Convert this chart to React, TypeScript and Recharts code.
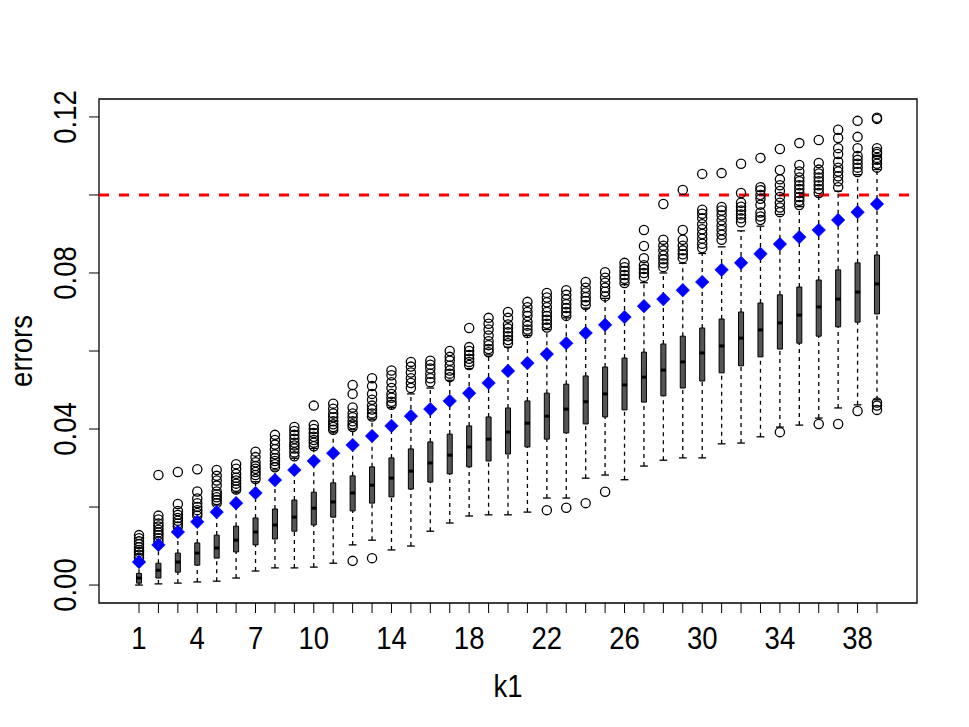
import React from 'react';
import {
  ComposedChart,
  XAxis,
  YAxis,
  Scatter,
  ReferenceLine,
  ReferenceArea,
} from 'recharts';

// ---- data ----
const k1 = [1, 2, 3, 4, 5, 6, 7, 8, 9, 10, 11, 12, 13, 14, 15, 16, 17, 18, 19, 20, 21, 22, 23, 24, 25, 26, 27, 28, 29, 30, 31, 32, 33, 34, 35, 36, 37, 38, 39];
const xLabels = [1, 4, 7, 10, 14, 18, 22, 26, 30, 34, 38];
const yTicks = [0, 0.02, 0.04, 0.06, 0.08, 0.1, 0.12];
const yLabels = [0, 0.04, 0.08, 0.12];
const threshold = 0.1;

const lows = [0.0, 0.0003, 0.0005, 0.0008, 0.001, 0.0018, 0.0036, 0.0044, 0.0044, 0.0046, 0.0056, 0.0103, 0.0115, 0.009, 0.01, 0.0138, 0.0159, 0.0177, 0.018, 0.018, 0.0187, 0.0223, 0.0223, 0.0274, 0.0282, 0.027, 0.0305, 0.032, 0.0326, 0.0326, 0.0362, 0.0364, 0.038, 0.0405, 0.041, 0.0428, 0.0454, 0.0462, 0.0475];
const q1s = [0.0005, 0.0018, 0.0033, 0.0051, 0.0069, 0.0085, 0.0103, 0.0118, 0.0138, 0.0154, 0.0174, 0.019, 0.021, 0.0226, 0.0246, 0.0264, 0.0285, 0.0303, 0.0318, 0.0336, 0.0354, 0.0374, 0.039, 0.0413, 0.0431, 0.0449, 0.0469, 0.0485, 0.0505, 0.0523, 0.0544, 0.0562, 0.0585, 0.0605, 0.062, 0.0638, 0.0662, 0.0674, 0.0695];
const medians = [0.0018, 0.0038, 0.0059, 0.0082, 0.0095, 0.0115, 0.0136, 0.0154, 0.0174, 0.0197, 0.0213, 0.0236, 0.0256, 0.0274, 0.0292, 0.0313, 0.0333, 0.0354, 0.0374, 0.0392, 0.0415, 0.0433, 0.0451, 0.047, 0.049, 0.0513, 0.0533, 0.0551, 0.0572, 0.0595, 0.0613, 0.0633, 0.0654, 0.0672, 0.0692, 0.0713, 0.0733, 0.0751, 0.0772];
const q3s = [0.003, 0.0056, 0.0082, 0.0108, 0.0128, 0.0151, 0.0172, 0.0195, 0.0218, 0.0238, 0.0262, 0.028, 0.0303, 0.0326, 0.0349, 0.0367, 0.0387, 0.0408, 0.0431, 0.0454, 0.0472, 0.0492, 0.0515, 0.0536, 0.0559, 0.0582, 0.0597, 0.0618, 0.0638, 0.0659, 0.0682, 0.07, 0.0723, 0.0744, 0.0764, 0.0782, 0.0808, 0.0826, 0.0846];
const highs = [0.0065, 0.0108, 0.0145, 0.0172, 0.0205, 0.0238, 0.0265, 0.0295, 0.0325, 0.035, 0.0392, 0.0398, 0.0425, 0.0455, 0.049, 0.0505, 0.0525, 0.0555, 0.059, 0.061, 0.064, 0.0655, 0.0685, 0.071, 0.0735, 0.077, 0.0775, 0.08, 0.0825, 0.085, 0.0867, 0.0908, 0.092, 0.095, 0.097, 0.0998, 0.101, 0.1052, 0.1065];
const means = [0.0059, 0.0103, 0.0136, 0.0162, 0.0187, 0.021, 0.0236, 0.0269, 0.0295, 0.0318, 0.0338, 0.0359, 0.0382, 0.0408, 0.0433, 0.0451, 0.0472, 0.0492, 0.0518, 0.0549, 0.0569, 0.0592, 0.062, 0.0646, 0.0667, 0.0687, 0.0715, 0.0733, 0.0756, 0.0777, 0.0808, 0.0826, 0.0849, 0.0874, 0.0892, 0.091, 0.0936, 0.0956, 0.0977];
const outliers = [
  [0.007, 0.0078, 0.0085, 0.009, 0.0097, 0.0105, 0.0112, 0.012, 0.0128],
  [0.0112, 0.012, 0.0128, 0.0135, 0.0142, 0.015, 0.0158, 0.0168, 0.0178, 0.0282],
  [0.015, 0.0158, 0.0165, 0.0172, 0.018, 0.019, 0.0208, 0.029],
  [0.0178, 0.0185, 0.0192, 0.02, 0.021, 0.0222, 0.024, 0.0297],
  [0.021, 0.0218, 0.0225, 0.0232, 0.024, 0.0255, 0.0268, 0.028, 0.0295],
  [0.0245, 0.0252, 0.026, 0.0268, 0.0275, 0.0285, 0.0298, 0.031],
  [0.0272, 0.0282, 0.029, 0.0298, 0.0305, 0.0315, 0.0328, 0.0342],
  [0.0302, 0.031, 0.0318, 0.0325, 0.0335, 0.0348, 0.036, 0.0372, 0.0385],
  [0.033, 0.034, 0.035, 0.0358, 0.0365, 0.0375, 0.0385, 0.0395, 0.0405],
  [0.0356, 0.0365, 0.0372, 0.038, 0.039, 0.04, 0.041, 0.046],
  [0.0398, 0.0405, 0.0412, 0.042, 0.043, 0.044, 0.0452, 0.0465],
  [0.0062, 0.0405, 0.0412, 0.042, 0.043, 0.044, 0.0455, 0.049, 0.0513],
  [0.0069, 0.0432, 0.044, 0.045, 0.046, 0.0475, 0.049, 0.051, 0.053],
  [0.0462, 0.047, 0.048, 0.049, 0.0505, 0.052, 0.0538, 0.055],
  [0.0505, 0.0518, 0.053, 0.0545, 0.056, 0.0572],
  [0.052, 0.053, 0.0542, 0.0555, 0.0565, 0.0575],
  [0.0533, 0.0542, 0.055, 0.0562, 0.0575, 0.0585, 0.06],
  [0.0564, 0.0572, 0.058, 0.059, 0.06, 0.061, 0.0659],
  [0.0597, 0.0605, 0.0615, 0.0625, 0.064, 0.0655, 0.067, 0.0685],
  [0.062, 0.0628, 0.0638, 0.0648, 0.0658, 0.0668, 0.0685, 0.07],
  [0.0646, 0.0655, 0.0665, 0.0675, 0.069, 0.07, 0.0712, 0.0726],
  [0.0192, 0.066, 0.067, 0.068, 0.069, 0.07, 0.0712, 0.0725, 0.0737, 0.0749],
  [0.0198, 0.069, 0.07, 0.071, 0.072, 0.0732, 0.0744, 0.0756],
  [0.021, 0.0718, 0.0728, 0.0738, 0.075, 0.0762, 0.0777],
  [0.0239, 0.074, 0.0752, 0.0762, 0.0775, 0.0788, 0.0802],
  [0.0774, 0.0785, 0.0795, 0.0805, 0.0815, 0.0826],
  [0.079, 0.08, 0.081, 0.082, 0.0838, 0.0869, 0.091],
  [0.0815, 0.0825, 0.0835, 0.0845, 0.0858, 0.087, 0.0885, 0.0977],
  [0.0838, 0.0848, 0.0858, 0.087, 0.0885, 0.091, 0.1013],
  [0.0864, 0.0875, 0.0888, 0.09, 0.0912, 0.0925, 0.094, 0.0952, 0.0962, 0.1054],
  [0.0885, 0.0898, 0.091, 0.0922, 0.0935, 0.0948, 0.096, 0.0969, 0.1056],
  [0.093, 0.094, 0.095, 0.096, 0.097, 0.098, 0.1005, 0.108],
  [0.0936, 0.0945, 0.0955, 0.0975, 0.099, 0.1, 0.1012, 0.102, 0.1095],
  [0.0392, 0.0956, 0.0968, 0.098, 0.0995, 0.101, 0.1025, 0.104, 0.1064, 0.1118],
  [0.0974, 0.0985, 0.0995, 0.1005, 0.1015, 0.1025, 0.1035, 0.1045, 0.106, 0.1077, 0.1133],
  [0.0413, 0.1005, 0.1015, 0.1025, 0.1035, 0.1045, 0.1055, 0.1065, 0.1082, 0.1141],
  [0.0413, 0.102, 0.1035, 0.1048, 0.106, 0.107, 0.1085, 0.1105, 0.112, 0.1146, 0.1167],
  [0.0446, 0.1059, 0.107, 0.108, 0.109, 0.11, 0.112, 0.1149, 0.119],
  [0.0449, 0.046, 0.0468, 0.107, 0.108, 0.109, 0.1095, 0.1105, 0.111, 0.112, 0.1195, 0.1198],
];

// ---- derived series ----
const outlierPts = k1.flatMap((k, i) => outliers[i].map((v) => ({ x: k, y: v })));
const meanPts = k1.map((k, i) => ({ x: k, y: means[i] }));

// ---- style constants ----
const FONT = '"Liberation Sans", Arial, Helvetica, sans-serif';
const FS = 32;
const NARROW = 0.86;
const BOX_HW = 0.13;
const CAP_HW = 0.2;
const X_DOMAIN: [number, number] = [0.5 - 0.04 * 39, 39.5 + 0.04 * 39];
const Y_DOMAIN: [number, number] = [-0.0046, 0.1246];

// condensed text (emulates a narrow Helvetica)
const NarrowText = ({ x, y, rotate = 0, children }: any) => (
  <text
    x={0}
    y={0}
    transform={`translate(${x}, ${y}) rotate(${rotate}) scale(${NARROW}, 1)`}
    textAnchor="middle"
    fontSize={FS}
    fontFamily={FONT}
    fill="#000"
  >
    {children}
  </text>
);

const OpenCircle = (props: any) => {
  const { cx, cy } = props;
  if (cx == null || cy == null) return null;
  return <circle cx={cx} cy={cy} r={4.6} fill="none" stroke="#000" strokeWidth={1.3} />;
};

const Diamond = (props: any) => {
  const { cx, cy } = props;
  if (cx == null || cy == null) return null;
  const d = 6.8;
  return (
    <polygon
      points={`${cx},${cy - d} ${cx + d},${cy} ${cx},${cy + d} ${cx - d},${cy}`}
      fill="#0000ff"
      stroke="#0000ff"
      strokeWidth={0.5}
    />
  );
};

const XTick = (props: any) => {
  const { x, y, payload } = props;
  const v = payload.value as number;
  if (!xLabels.includes(v)) return null;
  return <NarrowText x={x} y={y + 21}>{String(v)}</NarrowText>;
};

const YTick = (props: any) => {
  const { x, y, payload } = props;
  const v = payload.value as number;
  const show = yLabels.some((l) => Math.abs(l - v) < 1e-9);
  if (!show) return null;
  return <NarrowText x={x - 11} y={y} rotate={-90}>{v.toFixed(2)}</NarrowText>;
};

const YTitle = (props: any) => {
  const vb = props.viewBox || {};
  const tx = (vb.x ?? 0) + 32;
  const ty = (vb.y ?? 0) + (vb.height ?? 0) / 2;
  return <NarrowText x={tx} y={ty} rotate={-90}>errors</NarrowText>;
};

const XTitle = (props: any) => {
  const vb = props.viewBox || {};
  const tx = (vb.x ?? 0) + (vb.width ?? 0) / 2;
  const ty = (vb.y ?? 0) + 94;
  return <NarrowText x={tx} y={ty}>k1</NarrowText>;
};

export default function App() {
  return (
    <div style={{ position: 'absolute', left: 0, top: 0, width: 969, height: 727, background: '#fff' }}>
      <ComposedChart
        width={969}
        height={727}
        margin={{ top: 99, right: 52, bottom: 0, left: 0 }}
        style={{ fontFamily: FONT }}
      >
        <XAxis
          type="number"
          dataKey="x"
          domain={X_DOMAIN}
          allowDataOverflow
          ticks={k1}
          interval={0}
          height={124}
          axisLine={false}
          tickLine={{ stroke: '#000', strokeWidth: 1 }}
          tickSize={10}
          tickMargin={15}
          tick={<XTick />}
          label={(p: any) => <XTitle {...p} />}
        />
        <YAxis
          type="number"
          dataKey="y"
          domain={Y_DOMAIN}
          allowDataOverflow
          ticks={yTicks}
          interval={0}
          width={99}
          axisLine={false}
          tickLine={{ stroke: '#000', strokeWidth: 1 }}
          tickSize={10}
          tickMargin={2}
          tick={<YTick />}
          label={(p: any) => <YTitle {...p} />}
        />

        {/* plot frame */}
        <ReferenceArea
          x1={X_DOMAIN[0]}
          x2={X_DOMAIN[1]}
          y1={Y_DOMAIN[0]}
          y2={Y_DOMAIN[1]}
          fill="#fff"
          fillOpacity={0}
          stroke="#000"
          strokeWidth={1.3}
          ifOverflow="visible"
        />

        {k1.map((k, i) => (
          <ReferenceLine
            key={`wl-${k}`}
            segment={[{ x: k, y: lows[i] }, { x: k, y: q1s[i] }]}
            stroke="#000"
            strokeWidth={1.3}
            strokeDasharray="4 4"
            ifOverflow="visible"
          />
        ))}
        {k1.map((k, i) => (
          <ReferenceLine
            key={`wh-${k}`}
            segment={[{ x: k, y: q3s[i] }, { x: k, y: highs[i] }]}
            stroke="#000"
            strokeWidth={1.3}
            strokeDasharray="4 4"
            ifOverflow="visible"
          />
        ))}
        {k1.map((k, i) => (
          <ReferenceLine
            key={`cl-${k}`}
            segment={[{ x: k - CAP_HW, y: lows[i] }, { x: k + CAP_HW, y: lows[i] }]}
            stroke="#000"
            strokeWidth={1.3}
            ifOverflow="visible"
          />
        ))}
        {k1.map((k, i) => (
          <ReferenceLine
            key={`ch-${k}`}
            segment={[{ x: k - CAP_HW, y: highs[i] }, { x: k + CAP_HW, y: highs[i] }]}
            stroke="#000"
            strokeWidth={1.3}
            ifOverflow="visible"
          />
        ))}
        {k1.map((k, i) => (
          <ReferenceArea
            key={`box-${k}`}
            x1={k - BOX_HW}
            x2={k + BOX_HW}
            y1={q1s[i]}
            y2={q3s[i]}
            fill="#555555"
            fillOpacity={1}
            stroke="#000"
            strokeWidth={1}
            ifOverflow="visible"
          />
        ))}
        {k1.map((k, i) => (
          <ReferenceLine
            key={`med-${k}`}
            segment={[{ x: k - BOX_HW, y: medians[i] }, { x: k + BOX_HW, y: medians[i] }]}
            stroke="#000"
            strokeWidth={3}
            ifOverflow="visible"
          />
        ))}

        <Scatter
          name="outliers"
          data={outlierPts}
          dataKey="y"
          shape={<OpenCircle />}
          isAnimationActive={false}
        />
        <Scatter
          name="mean"
          data={meanPts}
          dataKey="y"
          shape={<Diamond />}
          isAnimationActive={false}
        />

        <ReferenceLine
          y={threshold}
          stroke="#ff0000"
          strokeWidth={3}
          strokeDasharray="10 10"
        />
      </ComposedChart>
    </div>
  );
}
